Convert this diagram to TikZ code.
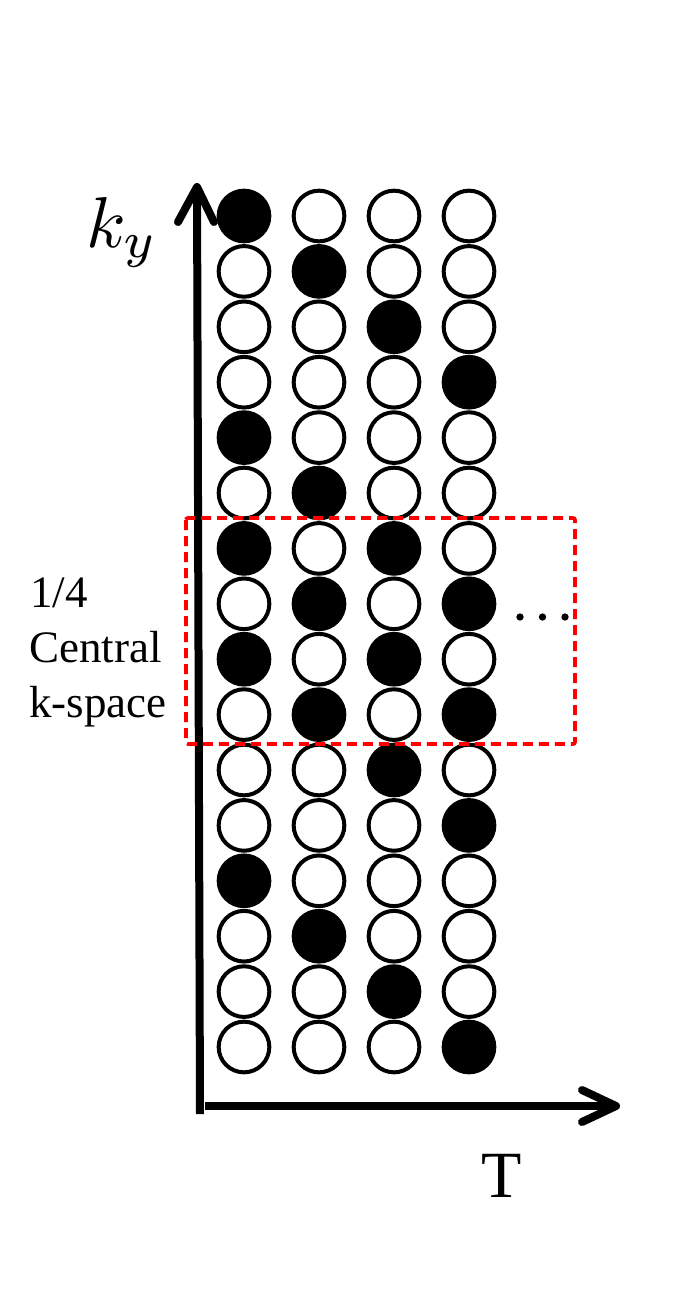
\documentclass[tikz,border=0pt]{standalone}
\usepackage{fontspec}
\setmainfont{Liberation Serif}
\begin{document}
\begin{tikzpicture}[x=0.75pt,y=-0.75pt,
  emptydot/.style={circle,draw=black,fill=white,line width=3pt,inner sep=0pt,minimum size=38pt},
  fulldot/.style={circle,draw=black,fill=black,line width=3pt,inner sep=0pt,minimum size=38pt},
  axisline/.style={line width=6pt,black},
  axishead/.style={line width=6pt,black,line cap=round,line join=round},
  region/.style={draw=red,line width=2.8pt,dash pattern=on 7.5pt off 4.5pt,rounded corners=1.5pt},
  etc/.style={circle,fill=black,inner sep=0pt,minimum size=5.5pt},
  lbl/.style={inner sep=0pt,font=\fontsize{33.75}{41}\selectfont,anchor=base west}]
\useasboundingbox (0,0) rectangle (690,1293);
% dots grid
\foreach \r/\f/\g in {1/1/0,2/2/0,3/3/0,4/4/0,5/1/0,6/2/0,7/1/3,8/2/4,9/1/3,10/2/4,11/3/0,12/4/0,13/1/0,14/2/0,15/3/0,16/4/0}{
  \foreach \c in {1,2,3,4}{
    \pgfmathsetmacro{\xx}{244+75*(\c-1)}
    \pgfmathsetmacro{\yy}{216+55.4*(\r-1)}
    \ifnum\c=\f
      \node[fulldot] (d-\r-\c) at (\xx,\yy) {};
    \else\ifnum\c=\g
      \node[fulldot] (d-\r-\c) at (\xx,\yy) {};
    \else
      \node[emptydot] (d-\r-\c) at (\xx,\yy) {};
    \fi\fi
  }
}
% axes
\coordinate (ybot) at (200,1114);
\coordinate (ytop) at (197,187);
\coordinate (yl) at (178,222);
\coordinate (yr) at (214,222);
\draw[axisline] (ybot) -- (ytop);
\draw[axishead] (yl) -- (ytop) -- (yr);
\coordinate (xleft) at (205,1106);
\coordinate (xtip) at (616,1106);
\coordinate (xu) at (582,1090);
\coordinate (xd) at (582,1122);
\draw[axisline] (xleft) -- (xtip);
\draw[axishead] (xu) -- (xtip) -- (xd);
% labels
\node[inner sep=0pt,anchor=base west,font=\normalsize,scale=5.4] (ky) at (85,247) {$k_y$};
\node[inner sep=0pt,anchor=base,font=\fontsize{49.5}{58}\selectfont] (tl) at (502,1197) {T};
\node[lbl] (l1) at (30,607) {1/4};
\node[lbl] (l2) at (29,662) {Central};
\node[lbl] (l3) at (29,717) {k-space};
% ellipsis
\node[etc] (e1) at (520,617) {};
\node[etc] (e2) at (542.5,617) {};
\node[etc] (e3) at (565,617) {};
% central region
\draw[region] (186,518) rectangle (575,744);
\end{tikzpicture}
\end{document}
